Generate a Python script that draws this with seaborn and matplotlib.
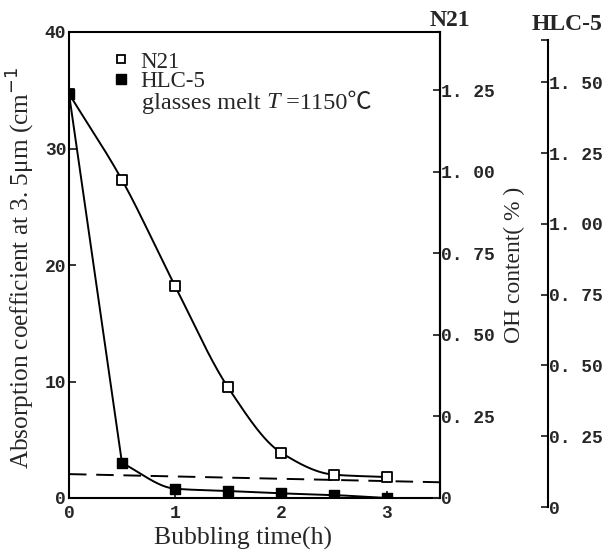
import numpy as np
import pandas as pd
import matplotlib
matplotlib.use("Agg")
import matplotlib.pyplot as plt
from matplotlib.lines import Line2D
import seaborn as sns

sns.set_theme(style="ticks")
plt.rcParams["font.family"] = ["Liberation Serif", "Noto Sans CJK SC"]

# donnees
temps = [0, 0.5, 1, 1.5, 2, 2.5, 3]
n21 = [34.7, 27.3, 18.2, 9.5, 3.9, 2.0, 1.8]
hlc5 = [34.7, 3.0, 0.8, 0.6, 0.4, 0.25, 0.0]
seuil_x = [0, 3.5]
seuil_y = [2.05, 1.35]

n21_ticks = [0, 0.25, 0.5, 0.75, 1.0, 1.25]
n21_labels = ["0", "0. 25", "0. 50", "0. 75", "1. 00", "1. 25"]
hlc_ticks = [0, 0.25, 0.5, 0.75, 1.0, 1.25, 1.5]
hlc_labels = ["0", "0. 25", "0. 50", "0. 75", "1. 00", "1. 25", "1. 50"]

W, H = 608, 554
mono = {"family": "Liberation Mono", "size": 13, "weight": "bold"}
serif = ["Liberation Serif", "Noto Sans CJK SC"]


def lisser(x, y, n=300):
    # interpolation monotone (pchip) pour tracer la courbe
    x = np.asarray(x, float)
    y = np.asarray(y, float)
    h = np.diff(x)
    d = np.diff(y) / h
    m = np.zeros_like(y)
    m[0], m[-1] = d[0], d[-1]
    for k in range(1, len(x) - 1):
        if d[k - 1] * d[k] > 0:
            w1 = 2 * h[k] + h[k - 1]
            w2 = h[k] + 2 * h[k - 1]
            m[k] = (w1 + w2) / (w1 / d[k - 1] + w2 / d[k])
    xs = np.linspace(x[0], x[-1], n)
    idx = np.clip(np.searchsorted(x, xs) - 1, 0, len(x) - 2)
    t = (xs - x[idx]) / h[idx]
    h00 = 2 * t**3 - 3 * t**2 + 1
    h10 = t**3 - 2 * t**2 + t
    h01 = -2 * t**3 + 3 * t**2
    h11 = t**3 - t**2
    ys = h00 * y[idx] + h10 * h[idx] * m[idx] + h01 * y[idx + 1] + h11 * h[idx] * m[idx + 1]
    return pd.DataFrame({"x": xs, "y": ys})


fig = plt.figure(figsize=(W / 100, H / 100), dpi=100)
ax = fig.add_axes([69 / W, 1 - 498 / H, 371 / W, 466 / H])

sns.lineplot(data=lisser(temps, n21), x="x", y="y", ax=ax, color="black", linewidth=1.4)
# HLC-5 : segment droit puis courbe lissee
sns.lineplot(x=temps[:2], y=hlc5[:2], ax=ax, color="black", linewidth=1.4)
sns.lineplot(data=lisser(temps[1:], hlc5[1:]), x="x", y="y", ax=ax, color="black", linewidth=1.4)
ax.plot(seuil_x, seuil_y, color="black", linewidth=1.4, dashes=(9, 5))

ax.scatter(temps, n21, marker="s", s=42, facecolor="white", edgecolor="black",
           linewidth=1.3, zorder=5)
ax.scatter(temps, hlc5, marker="s", s=48, facecolor="black", edgecolor="black", zorder=5)

ax.set_xlim(0, 3.5)
ax.set_ylim(0, 40)
ax.set_xticks([0, 1, 2, 3])
ax.set_yticks([0, 10, 20, 30, 40])
ax.tick_params(direction="in", length=5, width=1.3, pad=2)
ax.tick_params(axis="x", pad=5)
for lab in ax.get_xticklabels() + ax.get_yticklabels():
    lab.set_fontproperties(mono)
for s in ax.spines.values():
    s.set_linewidth(1.5)
    s.set_color("black")
ax.set_xlabel("Bubbling time(h)", fontsize=18.5, va="center")
ax.xaxis.set_label_coords((243 - 69) / 371, (498 - 538) / 466)
ax.set_ylabel("Absorption coefficient at 3. 5μm (cm$^{-1}$", fontsize=18.2, va="center")
ax.yaxis.set_label_coords((21 - 69) / 371, (498 - 268) / 466)

poignees = [
    Line2D([], [], marker="s", ls="", markersize=6, markerfacecolor="white",
           markeredgecolor="black", markeredgewidth=1.3),
    Line2D([], [], marker="s", ls="", markersize=7, markerfacecolor="black",
           markeredgecolor="black"),
]
ax.legend(poignees, ["N21", "HLC-5"], loc="upper left",
          bbox_to_anchor=(104 / W, 1 - 40 / H), bbox_transform=fig.transFigure,
          frameon=False, prop={"family": serif, "size": 16.5},
          handlelength=0.5, handletextpad=0.6, labelspacing=-0.05, borderpad=0)

# troisieme ligne : texte en morceaux pour garder le T en italique et le signe ℃
t1 = fig.text(142 / W, 1 - 103 / H, "glasses melt", fontsize=17.5, va="center")
t2 = ax.annotate(" T", xy=(1, 0), xycoords=t1, va="bottom", fontsize=17.5, style="italic")
ax.annotate(" =1150℃", xy=(1, 0), xycoords=t2, va="bottom", fontsize=17.5, family=serif)

# axe N21
ax2 = ax.twinx()
ax2.set_ylim(0, 40 / 28)
ax2.set_yticks(n21_ticks)
ax2.set_yticklabels(n21_labels)
ax2.tick_params(direction="in", length=5, width=1.3, pad=1)
for lab in ax2.get_yticklabels():
    lab.set_fontproperties(mono)
for s in ax2.spines.values():
    s.set_visible(False)
ax2.spines["right"].set_visible(True)
ax2.spines["right"].set_linewidth(1.5)
ax2.spines["right"].set_color("black")

# axe HLC-5
ax3 = fig.add_axes([69 / W, 1 - 507 / H, 479 / W, 467 / H])
ax3.patch.set_visible(False)
ax3.set_xticks([])
ax3.yaxis.tick_right()
ax3.set_ylim(0, 1.65)
ax3.set_yticks(hlc_ticks)
ax3.set_yticklabels(hlc_labels)
ax3.set_yticks([1.65], minor=True)
ax3.tick_params(axis="y", which="both", direction="in", length=5, width=1.3, pad=1)
for lab in ax3.get_yticklabels():
    lab.set_fontproperties(mono)
for nom, s in ax3.spines.items():
    s.set_visible(nom == "right")
ax3.spines["right"].set_linewidth(1.5)
ax3.spines["right"].set_color("black")

fig.text(450 / W, 1 - 20 / H, "N21", fontsize=17, weight="bold", ha="center", va="center")
fig.text(567 / W, 1 - 25 / H, "HLC-5", fontsize=17, weight="bold", ha="center", va="center")
fig.text(514 / W, 1 - 265 / H, "OH content( % )", fontsize=17, rotation=90,
         ha="center", va="center")

fig.savefig("out.png", dpi=100)
